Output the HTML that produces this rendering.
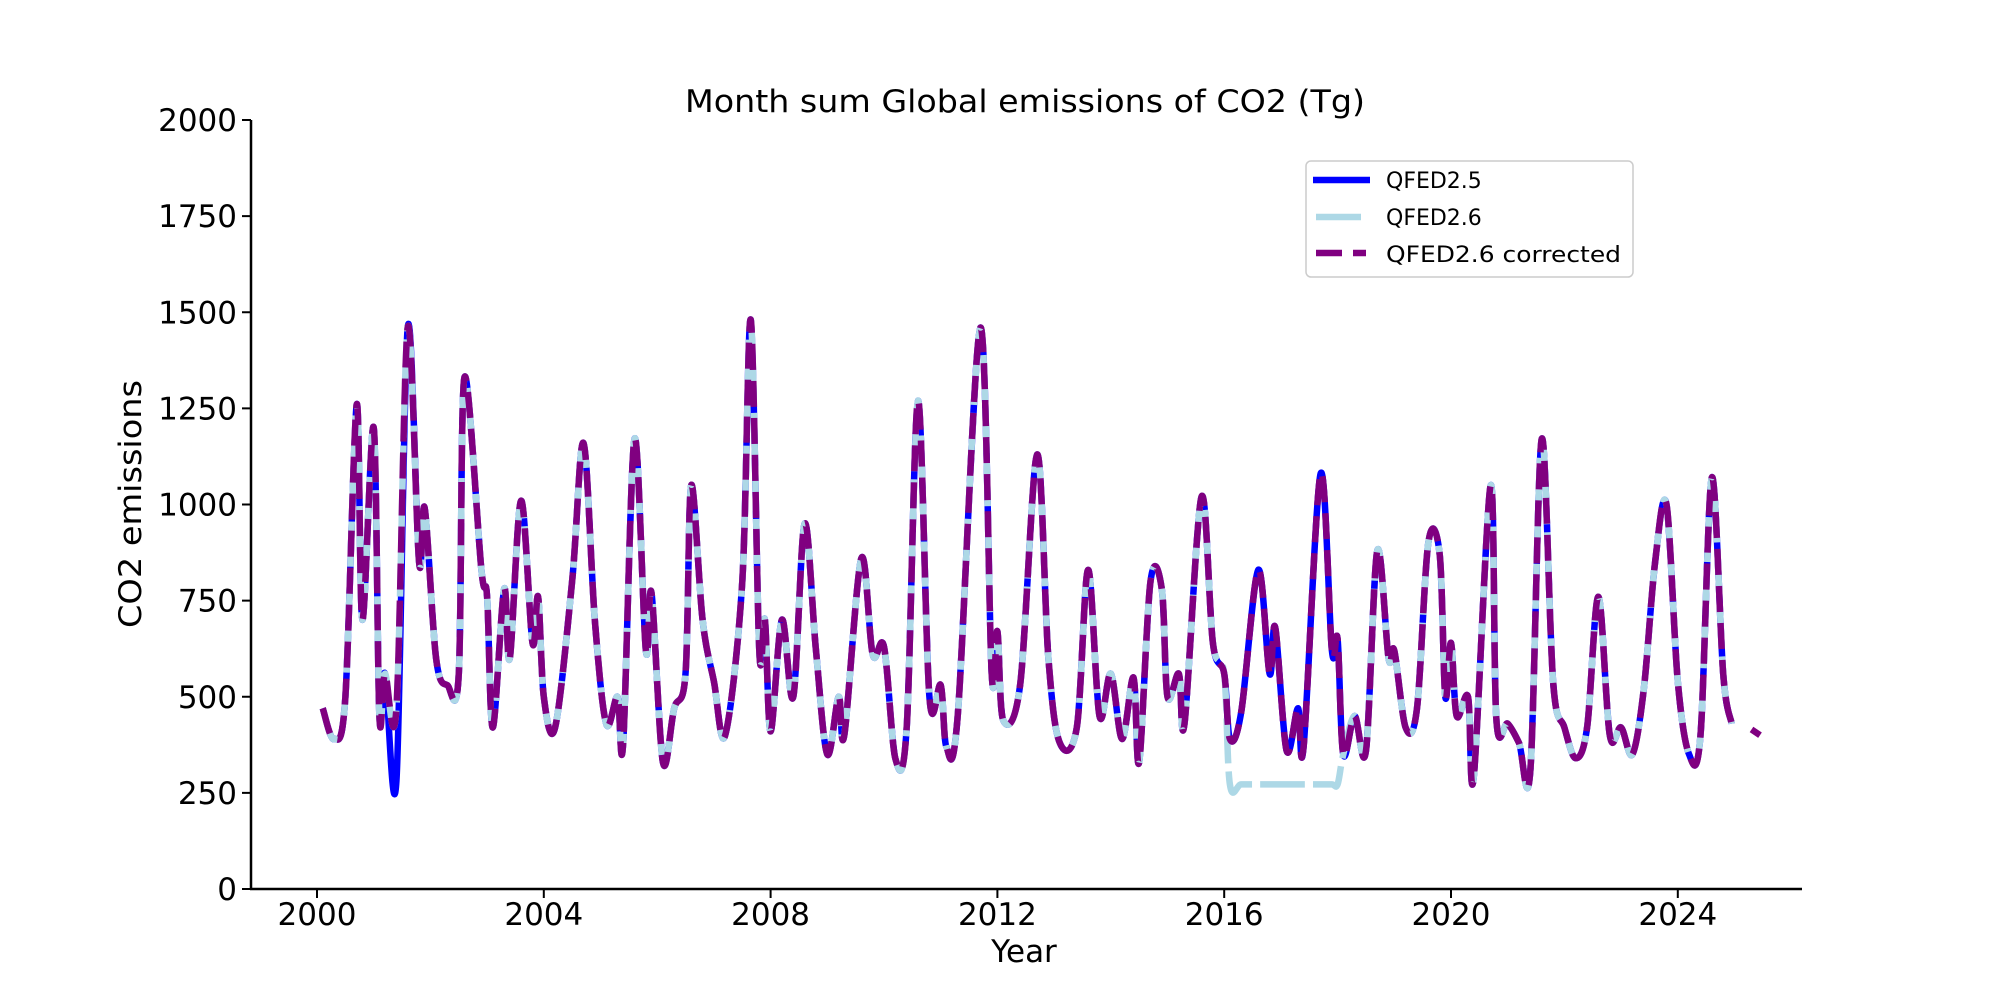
<!DOCTYPE html>
<html><head><meta charset="utf-8"><style>
html,body{margin:0;padding:0;background:#fff}
svg{display:block;font-family:"DejaVu Sans","Liberation Sans",sans-serif}
</style></head><body>
<svg id="s" width="2000" height="1000" viewBox="0 0 2000 1000" xmlns="http://www.w3.org/2000/svg">
<rect width="2000" height="1000" fill="#fff"/>
<text x="1025" y="112" font-size="31" text-anchor="middle" textLength="680" lengthAdjust="spacingAndGlyphs" fill="#000">Month sum Global emissions of CO2 (Tg)</text>
<g id="plot"></g>
<g stroke="#000" stroke-width="2.5" fill="none">
<line x1="251" y1="120" x2="251" y2="890"/>
<line x1="250" y1="889" x2="1802" y2="889"/>
</g>
<g id="ticks" font-size="31" fill="#000"></g>
<text x="1024" y="962" font-size="31" text-anchor="middle">Year</text>
<text transform="translate(141,504) rotate(-90)" font-size="31" text-anchor="middle" textLength="248" lengthAdjust="spacingAndGlyphs">CO2 emissions</text>
<rect x="1306" y="161" width="327" height="116" rx="5" fill="#fff" stroke="#ccc" stroke-width="1.5"/>
<line x1="1313" y1="180" x2="1370" y2="180" stroke="#0000ff" stroke-width="6.5"/>
<line x1="1316" y1="217" x2="1361" y2="217" stroke="#add8e6" stroke-width="6.5"/>
<line x1="1316" y1="253" x2="1366" y2="253" stroke="#800080" stroke-width="6.5" stroke-dasharray="26,11"/>
<text x="1386" y="188" font-size="22">QFED2.5</text>
<text x="1386" y="225" font-size="22">QFED2.6</text>
<text x="1386" y="262" font-size="22" textLength="235" lengthAdjust="spacingAndGlyphs">QFED2.6 corrected</text>
</svg>
<script>
var X=function(y){return 317+(y-2000)*56.7};
var Y=function(v){return 889-v*0.3845};
var tk=document.getElementById('ticks'),h='';
for(var y=2000;y<=2024;y+=4){var x=X(y);h+='<line x1="'+x+'" y1="889" x2="'+x+'" y2="898" stroke="#000" stroke-width="2"/><text x="'+x+'" y="925" text-anchor="middle">'+y+'</text>';}
for(var v=0;v<=2000;v+=250){var yy=Y(v);h+='<line x1="242" y1="'+yy+'" x2="251" y2="'+yy+'" stroke="#000" stroke-width="2"/><text x="237" y="'+(yy+11)+'" text-anchor="end">'+v+'</text>';}
tk.innerHTML=h;
var P=[[2000.1,470],[2000.3,390],[2000.5,500],[2000.7,1260],[2000.8,700],[2001.0,1200],[2001.1,450],[2001.2,560],[2001.4,470],[2001.6,1460],[2001.8,850],[2001.9,990],[2002.1,600],[2002.3,530],[2002.5,560],[2002.6,1330],[2002.9,830],[2003.0,760],[2003.1,420],[2003.3,780],[2003.4,600],[2003.6,1010],[2003.8,640],[2003.9,760],[2004.0,500],[2004.2,420],[2004.5,800],[2004.7,1160],[2004.9,700],[2005.1,430],[2005.3,500],[2005.4,380],[2005.6,1170],[2005.8,620],[2005.9,770],[2006.1,330],[2006.3,470],[2006.5,560],[2006.6,1050],[2006.8,700],[2007.0,540],[2007.2,400],[2007.5,800],[2007.65,1480],[2007.8,620],[2007.9,700],[2008.0,410],[2008.2,700],[2008.4,500],[2008.6,950],[2008.8,620],[2009.0,350],[2009.2,500],[2009.3,400],[2009.6,860],[2009.8,610],[2010.0,630],[2010.2,340],[2010.4,420],[2010.6,1270],[2010.8,500],[2011.0,530],[2011.1,370],[2011.3,450],[2011.7,1460],[2011.9,560],[2012.0,670],[2012.1,440],[2012.4,530],[2012.7,1130],[2012.9,600],[2013.1,380],[2013.4,420],[2013.6,830],[2013.8,450],[2014.0,560],[2014.2,390],[2014.4,550],[2014.5,330],[2014.7,800],[2014.9,780],[2015.0,500],[2015.2,560],[2015.3,430],[2015.6,1020],[2015.8,640],[2016.0,560],[2016.1,390],[2016.3,460],[2016.6,830],[2016.8,560],[2016.9,680],[2017.1,360],[2017.3,470],[2017.4,370],[2017.7,1080],[2017.9,620],[2018.0,650],[2018.1,350],[2018.3,450],[2018.5,360],[2018.7,880],[2018.9,600],[2019.0,620],[2019.2,420],[2019.4,470],[2019.6,900],[2019.8,870],[2019.9,500],[2020.0,640],[2020.1,450],[2020.3,500],[2020.4,290],[2020.7,1050],[2020.8,440],[2021.0,430],[2021.2,380],[2021.4,310],[2021.6,1170],[2021.8,540],[2022.0,420],[2022.2,340],[2022.4,420],[2022.6,760],[2022.8,400],[2023.0,420],[2023.2,350],[2023.4,520],[2023.6,850],[2023.8,1000],[2024.0,540],[2024.2,350],[2024.4,400],[2024.6,1070],[2024.8,560],[2024.95,430]];
function path(pts){var d='';for(var i=0;i<pts.length;i++){var x=X(pts[i][0]).toFixed(1),y=Y(pts[i][1]).toFixed(1);if(i==0)d+='M'+x+','+y;else{var p0=pts[Math.max(i-2,0)],p1=pts[i-1],p2=pts[i],p3=pts[Math.min(i+1,pts.length-1)];var c1x=X(p1[0])+(X(p2[0])-X(p0[0]))/6,c1y=Y(p1[1])+(Y(p2[1])-Y(p0[1]))/6,c2x=X(p2[0])-(X(p3[0])-X(p1[0]))/6,c2y=Y(p2[1])-(Y(p3[1])-Y(p1[1]))/6;d+='C'+c1x.toFixed(1)+','+c1y.toFixed(1)+' '+c2x.toFixed(1)+','+c2y.toFixed(1)+' '+x+','+y;}}return d;}
var B=P.map(function(p){return p.slice()});
for(var i=0;i<B.length;i++){if(Math.abs(B[i][0]-2001.4)<0.01)B[i][1]=280;}
var L=P.map(function(p){if(p[0]>2016.05&&p[0]<2018.05)return[p[0],272];return p.slice();});
var g=document.getElementById('plot');
g.innerHTML='<path d="'+path(B)+'" fill="none" stroke="#0000ff" stroke-width="6.5" stroke-linejoin="round"/>'+
'<path d="'+path(L)+'" fill="none" stroke="#add8e6" stroke-width="6.5" stroke-dasharray="45,8"/>'+
'<path d="'+path(P)+'" fill="none" stroke="#800080" stroke-width="6.5" stroke-dasharray="26,11"/>'+
'<line x1="'+X(2025.3)+'" y1="'+Y(415)+'" x2="'+X(2025.45)+'" y2="'+Y(400)+'" stroke="#800080" stroke-width="6.5"/>';
</script>
</body></html>
